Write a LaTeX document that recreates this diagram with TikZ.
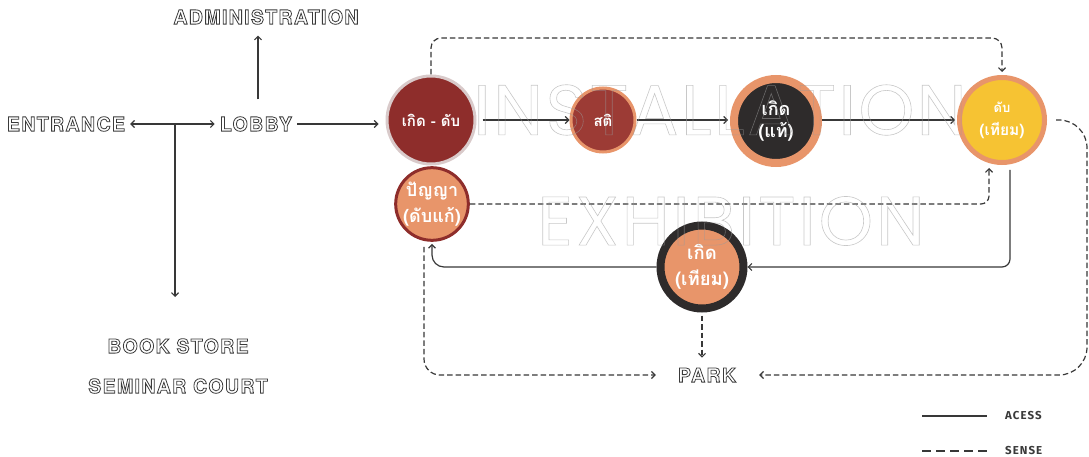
\documentclass[tikz,border=0pt]{standalone}
\usepackage{fontspec}
\usetikzlibrary{arrows.meta}
\setmainfont{TeX Gyre Heros}
\newfontfamily\labfont[LetterSpace=7]{TeX Gyre Heros}
\newfontfamily\thaifont[Script=Thai]{Loma}
\newfontfamily\bgfonta[LetterSpace=3.5]{Poppins}
\newfontfamily\bgfontb[LetterSpace=4.5]{Poppins}
\newfontfamily\legfont[LetterSpace=9]{Fira Sans}
\newcommand{\outlinetxt}[2]{\special{pdf:literal direct #1 w 1 Tr}#2\special{pdf:literal direct 0 Tr}}
\definecolor{dred}{HTML}{8E2D2B}
\definecolor{ringgrey}{HTML}{D9CACA}
\definecolor{satired}{HTML}{9C3B35}
\definecolor{orng}{HTML}{E8956A}
\definecolor{darkc}{HTML}{2E2B2B}
\definecolor{yell}{HTML}{F6C333}
\definecolor{linec}{HTML}{383838}
\definecolor{labc}{HTML}{3A3A3A}
\definecolor{bggrey}{HTML}{9A9A9A}
\tikzset{
  lbl/.style={font=\labfont\fontsize{19.5}{19.5}\selectfont\bfseries, text=labc, inner sep=5pt},
  bgw/.style={text=bggrey, inner sep=0pt, opacity=0.55},
  circ/.style={circle, inner sep=0pt, align=center, text=white,
    font=\thaifont\bfseries\fontsize{15}{22}\selectfont},
  acc/.style={draw=linec, line width=1.2pt},
  sen/.style={draw=linec, line width=1.2pt, dash pattern=on 5.5pt off 3pt},
  leg/.style={font=\legfont\bfseries\fontsize{11.5}{11.5}\selectfont, text=labc, inner sep=0pt, anchor=west},
}
\begin{document}
\begin{tikzpicture}[x=1pt,y=-1pt,>={Straight Barb[length=3.5pt,width=7pt]}]
\useasboundingbox (0,0) rectangle (1089,457);
% labels
\node[lbl] (adm) at (266,17) {\outlinetxt{0.8}{ADMINISTRATION}};
\node[lbl] (ent) at (66,124) {\outlinetxt{0.8}{ENTRANCE}};
\node[lbl] (lob) at (256,124) {\outlinetxt{0.8}{LOBBY}};
\node[lbl] (bs) at (178,346) {\outlinetxt{0.8}{BOOK STORE}};
\node[lbl] (sc) at (178,386) {\outlinetxt{0.8}{SEMINAR COURT}};
\node[lbl] (park) at (707,375) {\outlinetxt{0.8}{PARK}};
% circles
\node[circ, fill=dred, draw=ringgrey, line width=3pt, minimum size=88pt] (c1) at (431,120) {เกิด - ดับ};
\node[circ, fill=satired, draw=orng, line width=3pt, minimum size=64pt] (c2) at (603,120) {สติ};
\node[circ, fill=darkc, draw=orng, line width=8pt, minimum size=84pt, font=\thaifont\bfseries\fontsize{18}{22}\selectfont] (c3) at (776,121) {เกิด\\(แท้)};
\node[circ, fill=yell, draw=orng, line width=5pt, minimum size=85pt, font=\thaifont\bfseries\fontsize{15.5}{23}\selectfont] (c4) at (1002,120) {{\fontsize{13}{23}\selectfont ดับ}\\(เทียม)};
\node[circ, fill=orng, draw=dred, line width=3pt, minimum size=65pt, font=\thaifont\bfseries\fontsize{18}{26}\selectfont] (c5) at (432,204) {ปัญญา\\(ดับแก้)};
\node[circ, fill=orng, draw=darkc, line width=8pt, minimum size=83pt, font=\thaifont\bfseries\fontsize{18.5}{26}\selectfont] (c6) at (702,267) {เกิด\\(เทียม)};
% solid connectors
\coordinate (j) at (175,124);
\coordinate (jd) at (175,297);
\draw[acc,<->] (ent) -- (lob);
\draw[acc,->] (j) -- (jd);
\draw[acc,->,shorten <=12pt,shorten >=6pt] ([xshift=2pt]lob.north) -- ([xshift=2pt]lob.north |- adm.south);
\draw[acc,->,shorten >=7pt] (lob.east) -- (lob.east -| c1.west);
\draw[acc,->,shorten <=6pt] (c1) -- (c2);
\draw[acc,->,shorten >=2pt] (c2) -- (c3.west |- c2.east);
\draw[acc,->,shorten >=2pt] (c3.east |- c2.east) -- (c4);
\draw[acc,->,rounded corners=8pt,shorten <=5pt] ([xshift=8pt]c4.south) |- (c6.east);
\draw[acc,->,rounded corners=12pt,shorten >=2pt] (c6.west) -| (c5.south);
% dashed connectors
\coordinate (topd) at (700,38);
\coordinate (rx) at (1087,250);
\draw[sen,->,rounded corners=10pt,shorten >=3pt] (c1.north) |- (topd) -| (c4.north);
\draw[sen,->,rounded corners=8pt,shorten >=3pt] (c5.east) -| ([xshift=-13pt]c4.south);
\draw[sen,->,rounded corners=16pt,shorten <=5pt,shorten >=17pt] ([xshift=-8pt]c5.south) |- (park.west);
\draw[sen,->,shorten <=3pt,shorten >=5pt] (c6.south) -- (c6.south |- park.north);
\draw[sen,->,rounded corners=28pt,shorten <=9pt,shorten >=18pt] (c4.east) -| (rx) |- (park.east);
% background words
\node[bgw, font=\bgfonta\fontsize{71}{71}\selectfont] (inst) at (720,110) {\outlinetxt{0.6}{INSTALLATION}};
\node[bgw, font=\bgfontb\fontsize{69}{69}\selectfont] (exh) at (731,221) {\outlinetxt{0.6}{EXHIBITION}};
% legend
\coordinate (la) at (922,416);
\coordinate (lb) at (987,416);
\coordinate (lc) at (922,451);
\coordinate (ld) at (987,451);
\draw[draw=linec, line width=2.2pt] (la) -- (lb);
\draw[draw=linec, line width=1.6pt, dash pattern=on 9pt off 5pt] (lc) -- (ld);
\node[leg] (lacc) at (1005,416) {ACESS};
\node[leg] (lsen) at (1005,451) {SENSE};
\end{tikzpicture}
\end{document}
